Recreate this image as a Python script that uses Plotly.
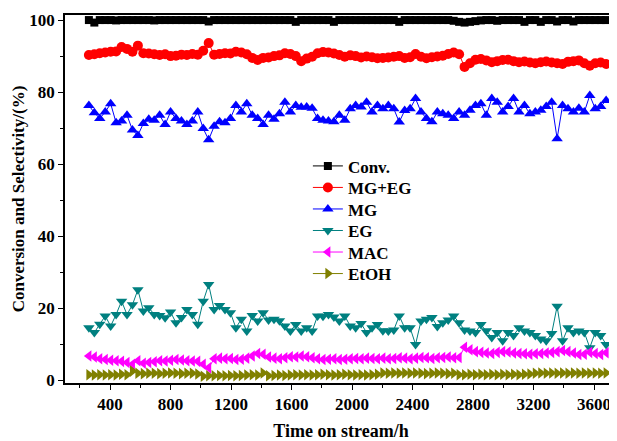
import plotly.graph_objects as go

time_h = [260, 296, 332, 368, 404, 440, 476, 512, 548, 584,
          620, 656, 692, 728, 764, 800, 836, 872, 908, 944,
          980, 1016, 1052, 1088, 1124, 1160, 1196, 1232, 1268, 1304,
          1340, 1376, 1412, 1448, 1484, 1520, 1556, 1592, 1628, 1664,
          1700, 1736, 1772, 1808, 1844, 1880, 1916, 1952, 1988, 2024,
          2060, 2096, 2132, 2168, 2204, 2240, 2276, 2312, 2348, 2384,
          2420, 2456, 2492, 2528, 2564, 2600, 2636, 2672, 2708, 2744,
          2780, 2816, 2852, 2888, 2924, 2960, 2996, 3032, 3068, 3104,
          3140, 3176, 3212, 3248, 3284, 3320, 3356, 3392, 3428, 3464,
          3500, 3536, 3572, 3608, 3644, 3680]

conv = [100.0, 99.3, 100.0, 100.0, 100.0, 99.9, 100.0, 100.0, 100.0, 100.0,
        100.0, 100.0, 99.9, 100.0, 100.0, 100.0, 100.0, 100.0, 100.0, 100.0,
        100.0, 100.0, 99.6, 100.0, 100.0, 100.0, 100.0, 100.0, 100.0, 100.0,
        100.0, 100.0, 100.0, 100.0, 100.0, 100.0, 100.0, 100.0, 99.5, 100.0,
        100.0, 100.0, 100.0, 100.0, 100.0, 99.5, 100.0, 100.0, 100.0, 100.0,
        100.0, 100.0, 100.0, 100.0, 100.0, 100.0, 100.0, 99.5, 100.0, 100.0,
        100.0, 100.0, 100.0, 100.0, 100.0, 100.0, 100.0, 99.8, 99.5, 99.3,
        99.5, 99.7, 99.9, 100.0, 100.0, 99.8, 100.0, 100.0, 100.0, 100.0,
        99.5, 100.0, 100.0, 99.5, 100.0, 100.0, 99.6, 100.0, 100.0, 99.6,
        100.0, 100.0, 100.0, 100.0, 100.0, 100.0]

mg_eg = [90.3, 90.5, 90.8, 91.0, 91.2, 91.3, 92.5, 92.0, 91.2, 92.9,
         90.8, 90.7, 90.5, 90.3, 90.5, 90.0, 90.1, 90.4, 90.3, 90.6,
         90.4, 91.5, 93.6, 90.4, 90.6, 90.8, 90.7, 91.2, 91.0, 90.5,
         89.5, 88.9, 89.5, 89.6, 90.0, 90.2, 90.8, 90.6, 90.0, 88.6,
         89.3, 89.8, 90.8, 91.1, 91.0, 90.7, 90.3, 89.8, 90.2, 90.0,
         89.6, 89.9, 89.7, 89.4, 89.5, 89.6, 89.8, 90.0, 89.5, 89.7,
         90.6, 89.8, 89.4, 89.7, 89.9, 90.1, 90.6, 91.0, 90.5, 87.0,
         88.0, 89.0, 89.2, 88.8, 88.3, 88.6, 88.9, 89.0, 88.6, 88.3,
         88.5, 88.2, 88.0, 88.3, 88.5, 88.2, 88.0, 87.8, 88.4, 88.6,
         88.8, 88.0, 87.3, 88.0, 88.2, 87.8]

mg = [76.3, 74.3, 72.7, 74.5, 76.8, 71.5, 72.0, 73.6, 69.5, 68.0,
      71.3, 72.5, 72.2, 73.6, 71.0, 74.5, 72.7, 72.0, 71.0, 72.0,
      74.5, 69.9, 66.8, 70.5, 71.8, 71.5, 72.7, 76.3, 74.5, 76.8,
      73.6, 72.7, 71.0, 73.6, 72.5, 74.0, 77.2, 74.5, 76.3, 75.8,
      75.9, 75.5, 72.7, 72.2, 72.0, 71.8, 73.6, 72.2, 75.4, 76.3,
      75.9, 77.2, 74.5, 76.3, 75.4, 76.3, 75.4, 71.7, 74.9, 75.4,
      78.2, 74.5, 72.7, 71.8, 74.5, 74.0, 73.6, 72.7, 74.5, 73.6,
      75.0, 76.3, 76.8, 73.6, 78.2, 77.2, 74.5, 76.0, 78.2, 74.5,
      76.3, 74.0, 74.5, 75.0, 76.0, 77.2, 67.1, 76.3, 75.4, 74.5,
      75.5, 74.5, 79.1, 75.4, 76.0, 77.7]

eg = [14.6, 13.3, 15.6, 17.9, 15.1, 18.3, 22.0, 18.3, 21.0, 25.2,
      19.3, 20.2, 18.3, 18.0, 17.4, 19.0, 16.0, 17.5, 19.7, 18.3,
      15.6, 22.0, 26.6, 19.7, 20.8, 19.7, 18.8, 14.6, 17.0, 13.7,
      18.0, 16.5, 18.8, 16.8, 17.0, 16.6, 15.1, 13.7, 15.5, 13.7,
      14.6, 13.7, 17.9, 17.8, 18.3, 17.6, 16.5, 17.9, 15.1, 14.6,
      15.8, 13.3, 14.6, 15.5, 13.8, 13.7, 14.0, 17.9, 14.6, 14.6,
      10.0, 16.5, 17.0, 17.5, 15.0, 16.0, 16.8, 17.9, 16.0, 14.0,
      13.7, 13.3, 15.5, 13.8, 11.9, 13.3, 11.0, 13.3, 12.5, 14.6,
      13.7, 13.3, 12.5, 11.5, 11.0, 13.0, 20.6, 11.0, 14.6, 13.3,
      13.7, 13.3, 9.1, 13.3, 12.5, 10.0]

mac = [6.8, 6.5, 6.0, 5.8, 5.6, 5.5, 5.3, 5.0, 4.5, 5.5,
       4.8, 5.0, 5.2, 5.5, 5.4, 5.6, 5.8, 5.7, 5.5, 5.4,
       5.3, 4.5, 3.5, 6.0, 6.2, 6.0, 6.1, 5.8, 5.9, 6.2,
       6.8, 7.5, 7.3, 6.5, 6.2, 6.0, 6.3, 6.6, 6.5, 6.8,
       6.6, 6.3, 6.0, 5.8, 5.9, 6.0, 5.8, 5.9, 6.0, 6.1,
       6.0, 6.2, 6.1, 6.0, 6.2, 6.0, 6.1, 6.3, 6.2, 6.0,
       6.2, 6.4, 6.3, 6.1, 6.3, 6.4, 6.5, 6.3, 6.4, 9.2,
       8.5, 8.0, 7.8, 7.6, 7.5, 7.8, 8.0, 7.9, 7.6, 7.5,
       7.4, 7.3, 7.4, 7.5, 7.6, 7.8, 8.0, 8.3, 8.0, 7.6,
       7.2, 7.3, 7.8, 7.5, 7.2, 7.7]

etoh = [1.6, 1.5, 1.6, 1.5, 1.6, 1.5, 1.7, 1.6, 2.6, 2.0,
        1.9, 2.0, 2.0, 1.9, 2.0, 2.1, 2.0, 1.9, 2.0, 2.0,
        1.8, 1.2, 1.3, 1.3, 1.4, 1.3, 1.4, 1.3, 1.4, 1.5,
        1.6, 1.5, 2.1, 1.3, 1.4, 1.5, 1.4, 1.5, 1.6, 1.5,
        1.6, 1.5, 1.6, 1.7, 1.6, 1.5, 1.6, 1.7, 1.6, 1.5,
        1.6, 1.5, 1.6, 1.7, 2.1, 2.0, 2.1, 2.0, 2.1, 2.0,
        2.1, 2.0, 1.9, 2.0, 2.1, 2.0, 1.9, 2.0, 1.6, 1.6,
        1.7, 1.6, 1.7, 1.6, 1.7, 1.6, 1.7, 1.6, 1.7, 1.6,
        1.7, 1.8, 2.0, 2.1, 2.0, 2.1, 2.0, 2.1, 2.0, 2.1,
        2.0, 2.1, 2.0, 2.1, 2.0, 2.1]

series_names = ["Conv.", "MG+EG", "MG", "EG", "MAC", "EtOH"]
series_values = [conv, mg_eg, mg, eg, mac, etoh]
colors = ["#000000", "#FF0000", "#0000FF", "#008080", "#FF00FF", "#808000"]
symbols = ["square", "circle", "triangle-up", "triangle-down", "triangle-left", "triangle-right"]
sizes = [8, 10, 10, 10, 10, 10]
legend_ids = ["legend", "legend2", "legend3", "legend4", "legend5", "legend6"]
legend_rows_y = [0.5887, 0.5302, 0.4717, 0.4132, 0.3547, 0.2962]

FONT = "Liberation Serif"

fig = go.Figure()
for name, vals, color, sym, size, lg in zip(series_names, series_values, colors, symbols, sizes, legend_ids):
    fig.add_trace(go.Scatter(
        x=time_h, y=vals, name=name, mode="lines+markers",
        line=dict(color=color, width=1),
        marker=dict(symbol=sym, size=size, color=color, line=dict(width=0)),
        legend=lg,
    ))

legend_common = dict(xanchor="left", yanchor="middle",
                     bgcolor="rgba(0,0,0,0)", borderwidth=0,
                     font=dict(family=FONT, size=17, color="black", weight="bold"),
                     itemwidth=30)
layout_legends = {}
for lg, yv in zip(legend_ids, legend_rows_y):
    layout_legends[lg] = dict(x=0.44, y=yv, **legend_common)

fig.update_layout(
    width=609, height=433,
    margin=dict(l=57, r=0, t=7, b=55),
    paper_bgcolor="white", plot_bgcolor="white",
    font=dict(family=FONT, size=17, color="black"),
    showlegend=True,
    **layout_legends,
)
fig.update_xaxes(
    range=[102, 3752], tick0=0, dtick=400,
    showline=True, linecolor="black", linewidth=1.5, mirror=True,
    ticks="outside", ticklen=5, tickwidth=1.2, tickcolor="black",
    minor=dict(dtick=200, tick0=0, ticks="outside", ticklen=3, tickcolor="black"),
    showgrid=False, zeroline=False,
    tickfont=dict(family=FONT, size=17, color="black", weight="bold"),
    title=dict(text="Time on stream/h", standoff=14,
               font=dict(family=FONT, size=18, color="black", weight="bold")),
)
fig.update_yaxes(
    range=[-0.7, 101.4], tick0=0, dtick=20,
    showline=True, linecolor="black", linewidth=1.5, mirror=False,
    ticks="outside", ticklen=5, tickwidth=1.2, tickcolor="black",
    minor=dict(dtick=10, tick0=0, ticks="outside", ticklen=3, tickcolor="black"),
    showgrid=False, zeroline=False,
    tickfont=dict(family=FONT, size=17, color="black", weight="bold"),
    title=dict(text="Conversion and Selectivity/(%)", standoff=0,
               font=dict(family=FONT, size=17, color="black", weight="bold")),
)

fig.write_html("out.html")
